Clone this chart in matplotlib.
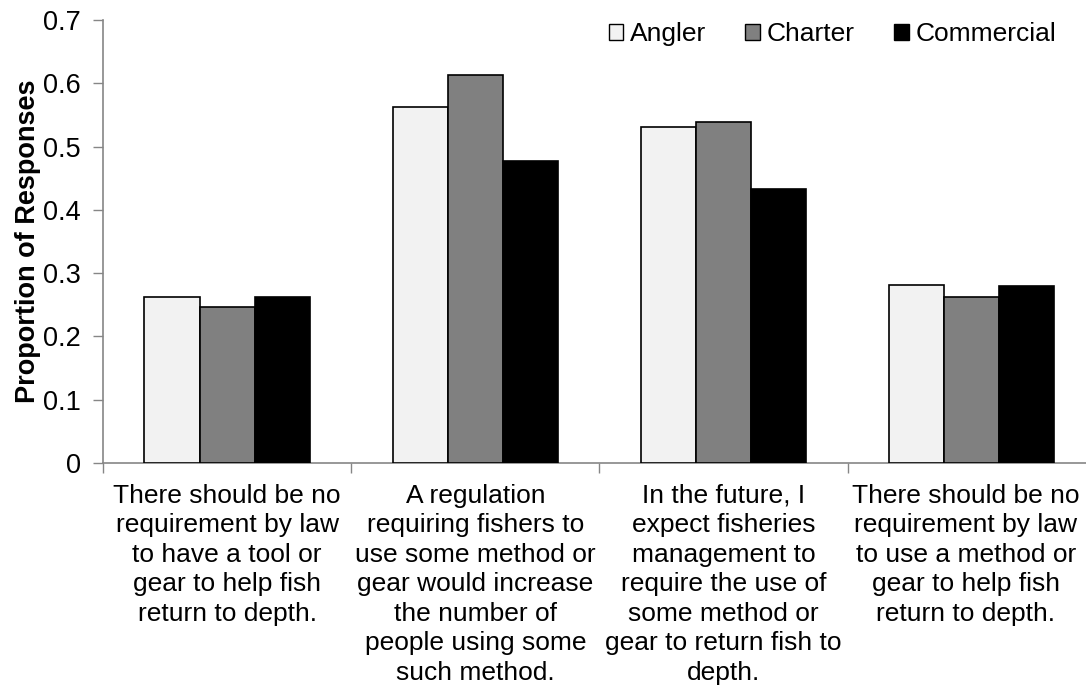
import matplotlib
matplotlib.use("Agg")
import matplotlib.pyplot as plt
import matplotlib.transforms as mtransforms
import numpy as np

plt.rcParams['font.family'] = ['Liberation Sans', 'DejaVu Sans']

categories = [
    "There should be no\nrequirement by law\nto have a tool or\ngear to help fish\nreturn to depth.",
    "A regulation\nrequiring fishers to\nuse some method or\ngear would increase\nthe number of\npeople using some\nsuch method.",
    "In the future, I\nexpect fisheries\nmanagement to\nrequire the use of\nsome method or\ngear to return fish to\ndepth.",
    "There should be no\nrequirement by law\nto use a method or\ngear to help fish\nreturn to depth.",
]
series_names = ["Angler", "Charter", "Commercial"]
angler = [0.262, 0.563, 0.531, 0.282]
charter = [0.247, 0.613, 0.539, 0.263]
commercial = [0.262, 0.477, 0.433, 0.280]
y_ticks = [0, 0.1, 0.2, 0.3, 0.4, 0.5, 0.6, 0.7]
y_tick_labels = ["0", "0.1", "0.2", "0.3", "0.4", "0.5", "0.6", "0.7"]

colors = ["#f2f2f2", "#808080", "#000000"]

fig = plt.figure(figsize=(10.86, 6.93), dpi=100)
ax = fig.add_axes([0.0948, 0.3319, 0.9142, 0.6392])

x = np.arange(len(categories))
width = 0.222
for i, (vals, name, c) in enumerate(zip([angler, charter, commercial], series_names, colors)):
    ax.bar(x + (i - 1) * width, vals, width, color=c, edgecolor="black",
           linewidth=1.2, label=name, zorder=3)

ax.set_xlim(-0.5, len(categories) - 0.5)
ax.set_ylim(0, 0.7)
ax.set_yticks(y_ticks)
ax.set_yticklabels(y_tick_labels, fontsize=19.5)

# group boundaries carry the ticks; labels sit at group centres
ax.set_xticks(np.arange(len(categories) + 1) - 0.5)
ax.set_xticklabels([])
ax.set_xticks(x, minor=True)
ax.set_xticklabels(categories, minor=True, fontsize=19, linespacing=1.29)
ax.tick_params(axis='x', which='minor', length=0, pad=15)
ax.tick_params(axis='x', which='major', length=7, color="#868686", width=1)
ax.tick_params(axis='y', length=7, color="#868686", width=1, pad=9)

# keep the last category label inside the figure edge
last = ax.get_xticklabels(minor=True)[-1]
last.set_transform(last.get_transform() +
                   mtransforms.ScaledTranslation(-6 / 100, 0, fig.dpi_scale_trans))

for side in ("top", "right"):
    ax.spines[side].set_visible(False)
for side in ("left", "bottom"):
    ax.spines[side].set_color("#868686")
    ax.spines[side].set_linewidth(1.2)

ax.set_ylabel("Proportion of Responses", fontsize=19.5, fontweight="bold", labelpad=1)

leg = fig.legend(ncol=3, frameon=False, fontsize=19, loc="center right",
                 bbox_to_anchor=(1056 / 1086, 1 - 34 / 693), bbox_transform=fig.transFigure,
                 handlelength=0.55, handleheight=0.55, handletextpad=0.25,
                 columnspacing=1.5, borderpad=0, borderaxespad=0)
for h in leg.legend_handles:
    h.set_linewidth(1.0)

fig.savefig("out.png", dpi=100)
